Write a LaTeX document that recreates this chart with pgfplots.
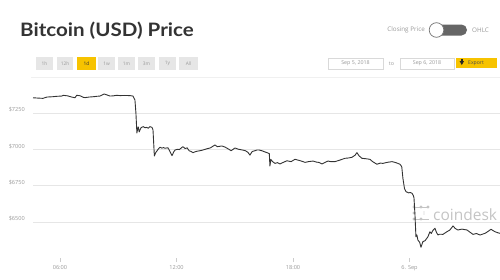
\documentclass[border=0pt]{standalone}
\usepackage{pgfplots}
\usepackage{graphicx}
\pgfplotsset{compat=1.18}
\usepackage{fontspec}
\setmainfont{Open Sans}
\newfontfamily\titlefont{Lato}
\definecolor{linec}{HTML}{333333}
\definecolor{gridc}{HTML}{E6E6E6}
\definecolor{labc}{HTML}{999999}
\definecolor{btn}{HTML}{E6E6E6}
\definecolor{yel}{HTML}{F7C300}
\definecolor{wm}{HTML}{C4C4C4}
\begin{document}
\begin{tikzpicture}[x=1bp,y=1bp]
\path[use as bounding box] (0,0) rectangle (500,279);
% title
\node[anchor=base west,inner sep=0pt,text=linec] at (20,243) {\scalebox{1.11}[1]{\titlefont\bfseries\fontsize{18.5bp}{20bp}\selectfont Bitcoin (USD) Price}};
% range buttons
\foreach \a/\b/\t in {36/53/1h,57/73/12h,77/96/1d,98/115/1w,118/135/1m,138/155/3m,159/176/1y,179/198/All}{
  \fill[btn] (\a,209) rectangle (\b,222);
  \node[text=labc,inner sep=0pt] at ({(\a+\b)/2},215.5) {\fontsize{4.8bp}{5bp}\selectfont \t};
}
\fill[yel] (77,209) rectangle (96,222);
\node[text=linec,inner sep=0pt] at (86.5,215.5) {\fontsize{4.8bp}{5bp}\selectfont 1d};
% toggle
\node[anchor=east,text=labc,inner sep=0pt] at (425,249) {\fontsize{6.3bp}{7bp}\selectfont Closing Price};
\fill[black!60,rounded corners=5.5bp] (432,243.5) rectangle (467,254.5);
\filldraw[fill=white,draw=black!55,line width=0.7bp] (436.5,249) circle (7.3);
\node[anchor=west,text=labc,inner sep=0pt] at (472,249) {\fontsize{6.3bp}{7bp}\selectfont OHLC};
% date boxes
\draw[black!15,fill=white,line width=0.6bp] (328,210) rectangle (383,221);
\node[text=labc,inner sep=0pt] at (355.5,215.5) {\fontsize{5.3bp}{6bp}\selectfont Sep 5, 2018};
\node[text=labc,inner sep=0pt] at (391.5,215.5) {\fontsize{5.3bp}{6bp}\selectfont to};
\draw[black!15,fill=white,line width=0.6bp] (400,210) rectangle (454,221);
\node[text=labc,inner sep=0pt] at (427,215.5) {\fontsize{5.3bp}{6bp}\selectfont Sep 6, 2018};
\fill[yel] (456,211) rectangle (497,221);
\fill[black!85] (461,217.8) rectangle (462.6,220) ;
\fill[black!85] (459.6,217.9) -- (464,217.9) -- (461.8,214) -- cycle;
\node[anchor=west,text=black!70,inner sep=0pt] at (468,216) {\fontsize{5.1bp}{6bp}\selectfont Export};
% separator
\draw[gridc!60,line width=0.6bp] (31,202) -- (500,202);
% watermark
\begin{scope}[wm]
\draw[line width=0.8bp] (414,72) -- (429,72);
\fill (414,72) circle (1.6) (421,72) circle (1.6) (428,72) circle (1.6);
\fill (414,66) circle (1.6) (424,67) circle (0.6) (424,65) circle (0.6);
\draw[line width=0.8bp] (414,60) -- (429,60);
\fill (414,60) circle (1.6) (421,60) circle (1.6);
\end{scope}
\node[anchor=base west,text=wm,inner sep=0pt] at (433,59) {\fontsize{15.5bp}{16bp}\selectfont coindesk};
\begin{axis}[
  at={(33bp,21bp)}, anchor=south west,
  width=467bp, height=173bp, scale only axis,
  xmin=4.61, xmax=28.66, ymin=6251, ymax=7443,
  axis line style={draw=none},
  axis x line*=bottom, axis y line*=left,
  xtick={6,12,18,24}, xticklabels={06:00,12:00,18:00,6. Sep},
  ytick={6500,6750,7000,7250}, yticklabels={\$6500,\$6750,\$7000,\$7250},
  ymajorgrids, grid style={gridc,line width=0.7bp},
  tick align=outside, major tick length=4bp,
  xtick style={black!20,line width=0.6bp},
  ytick style={draw=none},
  tick label style={text=labc,font=\fontsize{5.6bp}{6bp}\selectfont,inner sep=0pt},
  xticklabel style={anchor=north,yshift=-3bp},
  yticklabel style={anchor=east,xshift=-4bp,yshift=3bp},
  clip=false,
]
\addplot[linec,line width=0.9bp,line join=round] coordinates {
(4.61,7355)(4.85,7353)(5.12,7351)(5.33,7360)(5.6,7362)(5.83,7365)(6.10,7367)(6.17,7372)
(6.4,7368)(6.60,7360)(6.77,7355)(6.86,7372)(7.03,7369)(7.20,7358)(7.29,7356)(7.5,7360)
(7.7,7362)(7.89,7365)(8.06,7367)(8.27,7381)(8.32,7379)(8.45,7373)(8.57,7367)(8.73,7368)
(8.92,7372)(9.1,7370)(9.3,7371)(9.60,7370)(9.76,7367)(9.86,7340)(9.91,7250)(9.96,7112)
(10.00,7140)(10.03,7154)(10.08,7120)(10.12,7133)(10.18,7150)(10.29,7156)(10.38,7148)
(10.46,7151)(10.55,7145)(10.63,7156)(10.74,7151)(10.79,7133)(10.86,6954)(10.92,6975)
(11.0,6990)(11.08,7005)(11.15,7014)(11.25,7008)(11.33,7012)(11.41,7007)(11.56,7011)
(11.66,6985)(11.77,6956)(11.85,6980)(11.92,6995)(12.05,7000)(12.15,6998)(12.25,7010)
(12.33,7018)(12.45,7005)(12.55,7010)(12.65,6990)(12.75,6985)(12.85,6977)(13.0,6985)
(13.2,6990)(13.36,6995)(13.55,7003)(13.75,7010)(13.98,7030)(14.10,7018)(14.34,7023)
(14.5,7015)(14.7,7000)(14.81,6990)(15.01,7009)(15.2,7000)(15.4,6995)(15.55,6990)
(15.68,6979)(15.78,6960)(15.9,6985)(16.04,6990)(16.14,6995)(16.25,6995)(16.4,6990)
(16.55,6982)(16.66,6977)(16.78,6970)(16.81,6885)(16.86,6930)(16.95,6915)(17.07,6903)
(17.2,6908)(17.33,6899)(17.5,6910)(17.69,6921)(17.9,6915)(18.10,6931)(18.3,6924)
(18.45,6918)(18.62,6910)(18.8,6915)(19.03,6919)(19.2,6912)(19.35,6909)(19.49,6899)
(19.65,6910)(19.80,6919)(19.95,6915)(20.16,6915)(20.4,6925)(20.68,6938)(20.85,6940)
(21.04,6945)(21.2,6960)(21.29,6977)(21.4,6955)(21.55,6938)(21.75,6935)(21.96,6931)
(22.1,6915)(22.32,6897)(22.5,6905)(22.63,6903)(22.85,6910)(23.10,6915)(23.3,6908)
(23.51,6897)(23.60,6880)(23.66,6800)(23.74,6730)(23.82,6708)(23.95,6700)(24.05,6702)
(24.13,6697)(24.20,6680)(24.23,6665)(24.28,6550)(24.33,6398)(24.38,6410)(24.43,6375)
(24.52,6360)(24.59,6325)(24.69,6364)(24.80,6370)(24.95,6398)(25.05,6432)(25.12,6420)
(25.2,6440)(25.31,6456)(25.38,6430)(25.46,6410)(25.55,6415)(25.72,6414)(25.9,6430)
(26.08,6444)(26.24,6472)(26.35,6455)(26.49,6444)(26.7,6450)(26.96,6444)(27.1,6430)
(27.27,6414)(27.45,6420)(27.63,6409)(27.75,6415)(27.89,6421)(28.05,6435)(28.20,6449)
(28.30,6440)(28.40,6432)(28.55,6425)(28.66,6421)
};
\end{axis}
\end{tikzpicture}
\end{document}
